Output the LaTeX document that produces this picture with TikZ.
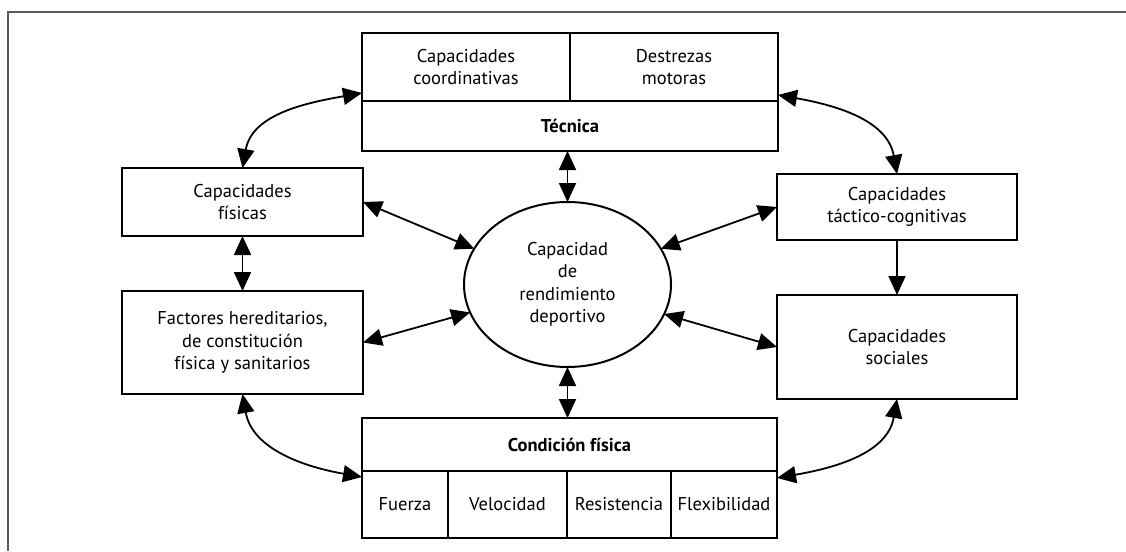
\documentclass[tikz,border=0pt]{standalone}
\usepackage{fontspec}
\setmainfont{PT Sans}
\usepackage{tikz}
\usetikzlibrary{arrows.meta,shapes,calc,positioning}
\definecolor{gris}{rgb}{0.35,0.35,0.35}
\tikzstyle{caja}  =[rectangle, draw, line width=2pt, inner sep=0pt,
                    outer sep=0pt, align=center,
                    font=\fontsize{18.5}{22.5}\selectfont]
\tikzstyle{elipse}=[ellipse, draw, line width=2pt, inner sep=0pt,
                    outer sep=0pt, align=center,
                    font=\fontsize{18.5}{22.5}\selectfont]
\tikzstyle{doble} =[line width=1.8pt,
                    {Triangle[length=19pt,width=17pt]}-{Triangle[length=19pt,width=17pt]}]
\tikzstyle{simple}=[line width=1.8pt, -{Triangle[length=19pt,width=17pt]}]
\begin{document}
\begin{tikzpicture}[x=1pt,y=1pt]
    \useasboundingbox (0,-551) rectangle (1126,0);
    \draw[gris, line width=1.2pt] (1126,-12) -- (8,-12) -- (8,-551);

    % tecnica
    \node (coo) [caja, minimum width=208pt, minimum height=68pt] at (466,-67) {Capacidades\\coordinativas};
    \node (des) [caja, minimum width=208pt, minimum height=68pt, right=0pt of coo] {Destrezas\\motoras};
    \node (tec) [caja, minimum width=416pt, minimum height=50pt, below=0pt of coo.south west, anchor=north west] {\bfseries Técnica};

    \node (fis) [caja, minimum width=241pt, minimum height=68pt] at (242.5,-202) {Capacidades\\físicas};
    \node (fac) [caja, minimum width=241pt, minimum height=103pt] at (242.5,-342.5) {Factores hereditarios,\\de constitución\\física y sanitarios};
    \node (cen) [elipse, minimum width=207pt, minimum height=165pt] at (567.5,-284.5) {Capacidad\\de\\rendimiento\\deportivo};
    \node (tac) [caja, minimum width=240pt, minimum height=66pt] at (897,-207) {Capacidades\\táctico-cognitivas};
    \node (soc) [caja, minimum width=240pt, minimum height=104pt] at (897,-347) {Capacidades\\sociales};

    % condicion fisica
    \node (con) [caja, minimum width=415pt, minimum height=53pt] at (569.5,-444.5) {\bfseries Condición física};
    \node (fue) [caja, minimum width=86pt, minimum height=67pt, below=0pt of con.south west, anchor=north west] {Fuerza};
    \node (vel) [caja, minimum width=119pt, minimum height=67pt, right=0pt of fue] {Velocidad};
    \node (res) [caja, minimum width=104pt, minimum height=67pt, right=0pt of vel] {Resistencia};
    \node (fle) [caja, minimum width=106pt, minimum height=67pt, right=0pt of res] {Flexibilidad};

    \foreach \i/\j in {fis.east/cen.159,fac.east/cen.196,tac.west/cen.21,soc.west/cen.343,fis.south/fac.north}
        \draw [doble] (\i) to (\j);
    \draw [doble] (tec.south -| cen.north) -- (cen.north);
    \draw [doble] (cen.south) -- (cen.south |- con.north);
    \draw [simple] (tac.south) -- (soc.north);

    \coordinate (tl) at ($(coo.south west)+(0,8)$);
    \coordinate (tr) at ($(des.south east)+(0,6)$);
    \coordinate (bl) at ($(fue.north west)+(0,-6)$);
    \coordinate (br) at ($(fle.north east)+(0,-7)$);
    \draw [doble] (fis.north) to[out=80,in=190] (tl);
    \draw [doble] (tac.north) to[out=100,in=-10] (tr);
    \draw [doble] (fac.south) to[out=-80,in=170] (bl);
    \draw [doble] (soc.south) to[out=-100,in=10] (br);
\end{tikzpicture}
\end{document}
